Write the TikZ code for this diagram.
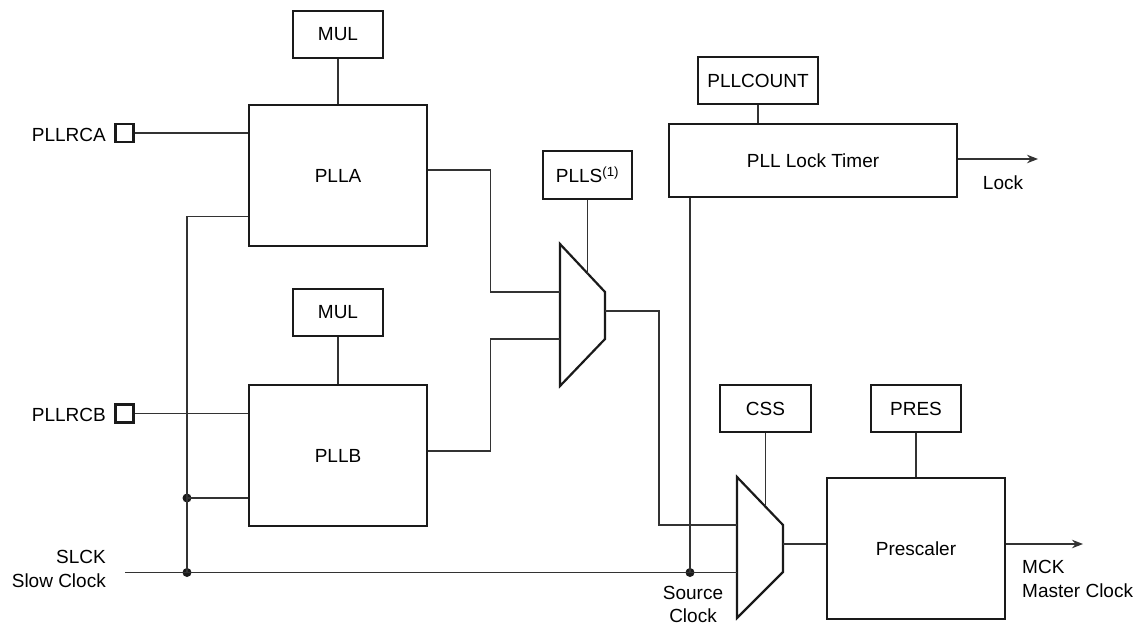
\documentclass[tikz,border=0pt]{standalone}
\usepackage{fontspec}
\setmainfont{Liberation Sans}
\usetikzlibrary{arrows.meta,calc}
\definecolor{boxc}{HTML}{1A1A1A}
\definecolor{wirec}{HTML}{333333}
\newcommand{\lblfont}{\fontsize{19}{23.5}\selectfont}
\begin{document}
\begin{tikzpicture}[x=1pt,y=-1pt,
  box/.style={draw=boxc,line width=2.2pt,rectangle,inner sep=0pt,font=\lblfont},
  wire/.style={draw=wirec,line width=1.2pt},
  arrowwire/.style={wire,-{Stealth[length=11pt,width=8.5pt]}},
  padbox/.style={draw=boxc,line width=2.2pt,rectangle,minimum size=18pt,inner sep=0pt},
  dotnode/.style={circle,fill=boxc,inner sep=0pt,minimum size=9pt},
  lbl/.style={font=\lblfont,inner sep=0pt},
  muxshape/.style={draw=boxc,line width=2.2pt,line join=miter}
]
\useasboundingbox (0,0) rectangle (1145,626);

% boxes
\node[box,minimum width=90pt,minimum height=47pt] (mula) at (338,34.5) {MUL};
\node[box,minimum width=178pt,minimum height=141pt] (plla) at (338,175.5) {PLLA};
\node[box,minimum width=90pt,minimum height=47pt] (mulb) at (338,312.5) {MUL};
\node[box,minimum width=178pt,minimum height=141pt] (pllb) at (338,455.5) {PLLB};
\node[box,minimum width=89pt,minimum height=48pt] (plls) at (587.5,175) {PLLS\textsuperscript{(1)}};
\node[box,minimum width=120pt,minimum height=47pt] (pllcount) at (758,80.5) {PLLCOUNT};
\node[box,minimum width=288pt,minimum height=73pt] (lock) at (813,160.5) {PLL Lock Timer};
\node[box,minimum width=91pt,minimum height=47pt] (css) at (765.5,408.5) {CSS};
\node[box,minimum width=90pt,minimum height=47pt] (pres) at (916,408.5) {PRES};
\node[box,minimum width=178pt,minimum height=141pt] (presc) at (916,548.5) {Prescaler};

% pads
\node[padbox] (pa) at (124.5,133) {};
\node[padbox] (pb) at (124.5,413.5) {};
\node[lbl,anchor=east] (pal) at (106,135) {PLLRCA};
\node[lbl,anchor=east] (pbl) at (106,415) {PLLRCB};

% labels
\node[lbl,align=right,anchor=east] (slck) at (106,569) {SLCK\\Slow Clock};
\node[lbl,align=center] (srcclk) at (693,604.5) {Source\\Clock};
\node[lbl,align=left,anchor=west] (mck) at (1022,579) {MCK\\Master Clock};
\node[lbl] (lockl) at (1003,183) {Lock};

% muxes
\coordinate (m1tl) at (560,244);
\coordinate (m1tr) at (605,292);
\coordinate (m1br) at (605,339);
\coordinate (m1bl) at (560,386);
\draw[muxshape] (m1tl) -- (m1tr) -- (m1br) -- (m1bl) -- cycle;
\coordinate (m2tl) at (737,477);
\coordinate (m2tr) at (783,525);
\coordinate (m2br) at (783,572);
\coordinate (m2bl) at (737,618);
\draw[muxshape] (m2tl) -- (m2tr) -- (m2br) -- (m2bl) -- cycle;

% named points
\coordinate (m1ina) at (560,292);
\coordinate (m1inb) at (560,339);
\coordinate (m1sel) at (587.5,274);
\coordinate (m1out) at (605,311);
\coordinate (m2ina) at (737,525);
\coordinate (m2inb) at (737,572.5);
\coordinate (m2sel) at (765.5,506);
\coordinate (m2out) at (783,544);
\coordinate (slckstart) at (125,572.5);
\node[dotnode] (d1) at (187,498) {};
\node[dotnode] (d2) at (187,572.5) {};
\node[dotnode] (d3) at (690,572.5) {};
\coordinate (lockend) at (1038,159);
\coordinate (mckend) at (1083,544);

% wires
\draw[wire] (pa.east) -- (pa.east -| plla.west);
\draw[wire] (pb.east) -- (pb.east -| pllb.west);
\draw[wire] (mula) -- (plla);
\draw[wire] (mulb) -- (pllb);
\draw[wire] ([yshift=-41pt]plla.west) -| (d2.center);
\draw[wire] (d1.center) -- (d1.center -| pllb.west);
\draw[wire] (slckstart) -- (m2inb);
\draw[wire] ([yshift=5.5pt]plla.east) -- ++(62,0) |- (m1ina);
\draw[wire] ([yshift=4.5pt]pllb.east) -- ++(62,0) |- (m1inb);
\draw[wire] (plls) -- (m1sel);
\draw[wire] (m1out) -- ++(54,0) |- (m2ina);
\draw[wire] (pllcount.south) -- (pllcount.south |- lock.north);
\draw[wire] (lock.south -| d3) -- (d3.center);
\draw[arrowwire] (lock.east |- lockend) -- (lockend);
\draw[wire] (css) -- (m2sel);
\draw[wire] (pres) -- (presc);
\draw[wire] (m2out) -- (m2out -| presc.west);
\draw[arrowwire] (presc.east |- mckend) -- (mckend);
\end{tikzpicture}
\end{document}
